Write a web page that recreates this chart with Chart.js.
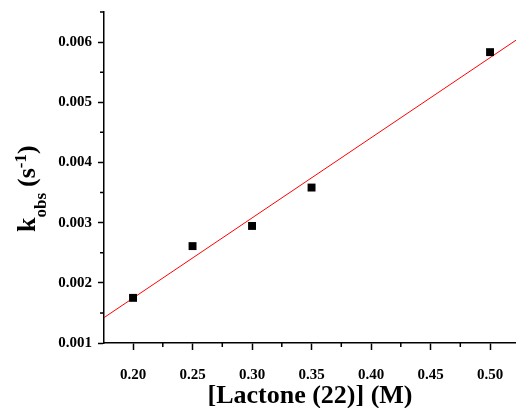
<!DOCTYPE html>
<html>
<head>
<meta charset="utf-8">
<script src="https://cdn.jsdelivr.net/npm/chart.js@4.4.0/dist/chart.umd.min.js"></script>
<style>
  html, body { margin: 0; padding: 0; background: #fff; overflow: hidden; }
  #wrap { width: 516px; height: 408px; }
  canvas { display: block; }
</style>
</head>
<body>
<div id="wrap"><canvas id="c"></canvas></div>
<script>
// measured rate constants vs. lactone concentration
const concentration = [0.20, 0.25, 0.30, 0.35, 0.50];
const kObs = [0.00175, 0.00261, 0.002945, 0.003583, 0.005833];

const xTicks = [0.20, 0.25, 0.30, 0.35, 0.40, 0.45, 0.50];
const xMinor = [0.175, 0.225, 0.275, 0.325, 0.375, 0.425, 0.475, 0.525];
const yTicks = [0.001, 0.002, 0.003, 0.004, 0.005, 0.006];
const yMinor = [0.0015, 0.0025, 0.0035, 0.0045, 0.0055, 0.0065];

const xMin = 0.1756, xMax = 0.5218;
const yMin = 0.001, yMax = 0.0065;

// least squares line through the points
function linearFit(xs, ys) {
  const n = xs.length;
  const mx = xs.reduce((a, b) => a + b, 0) / n;
  const my = ys.reduce((a, b) => a + b, 0) / n;
  let sxy = 0, sxx = 0;
  for (let i = 0; i < n; i++) {
    sxy += (xs[i] - mx) * (ys[i] - my);
    sxx += (xs[i] - mx) * (xs[i] - mx);
  }
  const slope = sxy / sxx;
  return { slope: slope, intercept: my - slope * mx };
}
const fit = linearFit(concentration, kObs);
const fitLine = [xMin, xMax].map(x => ({ x: x, y: fit.intercept + fit.slope * x }));

const serif = '"Liberation Serif", "Times New Roman", serif';

// short minor ticks and the y axis title with sub/superscripts
const extras = {
  id: 'extras',
  afterDraw(chart) {
    const ctx = chart.ctx;
    const xs = chart.scales.x, ys = chart.scales.y;
    const area = chart.chartArea;
    ctx.save();
    ctx.strokeStyle = '#000';
    ctx.lineWidth = 1.5;
    ctx.beginPath();
    xMinor.forEach(v => {
      if (v < xMin || v > xMax) return;
      const px = xs.getPixelForValue(v);
      ctx.moveTo(px, area.bottom);
      ctx.lineTo(px, area.bottom + 4);
    });
    yMinor.forEach(v => {
      if (v < yMin || v > yMax) return;
      const py = ys.getPixelForValue(v);
      ctx.moveTo(area.left, py);
      ctx.lineTo(area.left - 4, py);
    });
    ctx.stroke();

    // k_obs (s^-1), rotated
    ctx.translate(35, 232);
    ctx.rotate(-Math.PI / 2);
    ctx.fillStyle = '#000';
    ctx.textBaseline = 'alphabetic';
    ctx.textAlign = 'left';
    let pos = 0;
    ctx.font = 'bold 26px ' + serif;
    ctx.fillText('k', pos, 0);
    pos += ctx.measureText('k').width;
    ctx.font = 'bold 17px ' + serif;
    ctx.fillText('obs', pos, 11);
    pos += ctx.measureText('obs').width + 6;
    ctx.font = 'bold 26px ' + serif;
    ctx.fillText('(s', pos, 0);
    pos += ctx.measureText('(s').width;
    ctx.font = 'bold 17px ' + serif;
    ctx.fillText('-1', pos, -9);
    pos += ctx.measureText('-1').width;
    ctx.font = 'bold 26px ' + serif;
    ctx.fillText(')', pos, 0);
    ctx.restore();
  }
};

new Chart(document.getElementById('c'), {
  type: 'scatter',
  data: {
    datasets: [{
      label: 'k obs',
      data: concentration.map((x, i) => ({ x: x, y: kObs[i] })),
      pointStyle: 'rect',
      pointRadius: 5.6,
      pointHoverRadius: 5.6,
      backgroundColor: '#000',
      borderColor: '#000',
      borderWidth: 0
    }, {
      label: 'fit',
      type: 'line',
      data: fitLine,
      borderColor: '#ff0000',
      borderWidth: 1,
      pointRadius: 0,
      fill: false
    }]
  },
  options: {
    responsive: true,
    maintainAspectRatio: false,
    animation: false,
    layout: { autoPadding: false, padding: { top: 12, right: 0, left: 0, bottom: 0 } },
    plugins: {
      legend: { display: false },
      tooltip: { enabled: false }
    },
    scales: {
      x: {
        type: 'linear',
        min: xMin,
        max: xMax,
        afterBuildTicks: scale => { scale.ticks = xTicks.map(v => ({ value: v })); },
        afterFit: scale => {
          scale.height = 65;
          scale.paddingLeft = 0;
          scale.paddingRight = 0;
        },
        border: { color: '#000', width: 1.5 },
        grid: { drawOnChartArea: false, tickLength: 7, tickColor: '#000', tickWidth: 1.5 },
        ticks: {
          color: '#000',
          padding: 16,
          maxRotation: 0,
          font: { family: serif, size: 15, weight: 'bold' },
          callback: v => v.toFixed(2)
        },
        title: {
          display: true,
          text: '[Lactone (22)] (M)',
          color: '#000',
          padding: { top: 0, bottom: -4 },
          font: { family: serif, size: 26, weight: 'bold' }
        }
      },
      y: {
        type: 'linear',
        min: yMin,
        max: yMax,
        afterBuildTicks: scale => { scale.ticks = yTicks.map(v => ({ value: v })); },
        afterFit: scale => {
          scale.width = 104;
          scale.paddingTop = 0;
          scale.paddingBottom = 0;
        },
        border: { color: '#000', width: 1.5 },
        grid: { drawOnChartArea: false, tickLength: 6, tickColor: '#000', tickWidth: 1.5 },
        ticks: {
          color: '#000',
          padding: 6,
          font: { family: serif, size: 15, weight: 'bold' },
          callback: v => v.toFixed(3)
        }
      }
    }
  },
  plugins: [extras]
});
</script>
</body>
</html>
